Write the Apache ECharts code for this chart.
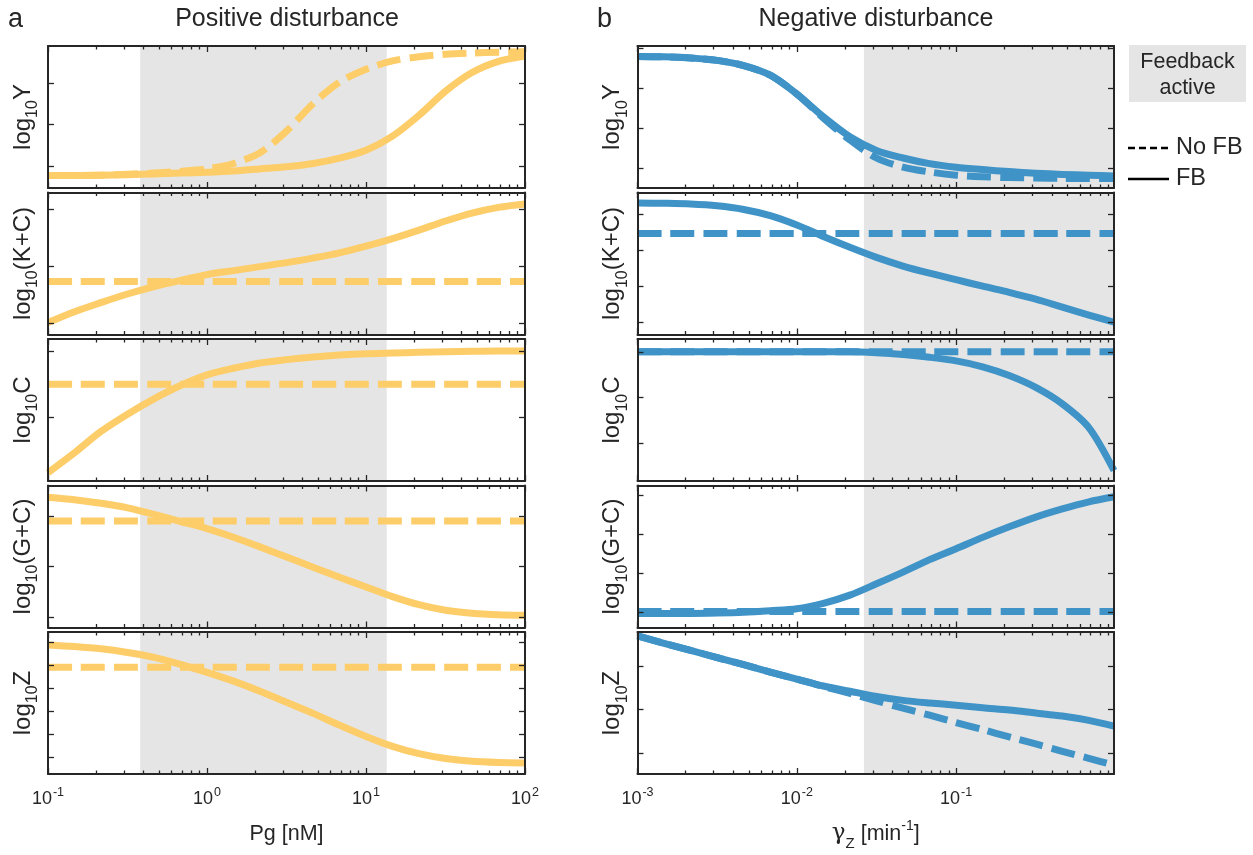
<!DOCTYPE html>
<html><head><meta charset="utf-8">
<script src="https://cdn.jsdelivr.net/npm/echarts@6/dist/echarts.min.js"></script>
<style>html,body{margin:0;padding:0;background:#fff}#c{width:1253px;height:855px}</style>
</head><body><div id="c"></div>
<script>
const TEXT = '#262626';
const YEL = '#FDCD6A', BLUE = '#3F93C7', SHADE = '#E5E5E5';
const FONT = '"Liberation Sans", Arial, Helvetica, sans-serif';

// x samples (evenly spaced in log10)
const xPg    = [0.1, 0.1468, 0.2154, 0.3162, 0.4642, 0.6813, 1, 1.468, 2.154, 3.162, 4.642, 6.813, 10, 14.68, 21.54, 31.62, 46.42, 68.13, 100];
const xGamma = [0.001, 0.001468, 0.002154, 0.003162, 0.004642, 0.006813, 0.01, 0.01468, 0.02154, 0.03162, 0.04642, 0.06813, 0.1, 0.1468, 0.2154, 0.3162, 0.4642, 0.6813, 0.98];

// axis ticks
const majorTicksPg = [0.1, 1, 10, 100];
const minorTicksPg = [0.2,0.3,0.4,0.5,0.6,0.7,0.8,0.9, 2,3,4,5,6,7,8,9, 20,30,40,50,60,70,80,90];
const majorTicksGamma = [0.001, 0.01, 0.1];
const minorTicksGamma = [0.002,0.003,0.004,0.005,0.006,0.007,0.008,0.009, 0.02,0.03,0.04,0.05,0.06,0.07,0.08,0.09, 0.2,0.3,0.4,0.5,0.6,0.7,0.8,0.9];
const shadePg = [0.38, 13.5];
const shadeGamma = [0.0264, 0.98];

// Positive disturbance (log10 values, arbitrary offset)
const posY_noFB  = [-0.23,-0.23,-0.22,-0.2,-0.17,-0.13,-0.07,0.06,0.32,0.84,1.5,2.02,2.33,2.53,2.63,2.69,2.72,2.74,2.75];
const posY_FB    = [-0.23,-0.23,-0.22,-0.21,-0.19,-0.17,-0.15,-0.12,-0.07,-0.02,0.06,0.19,0.38,0.72,1.22,1.8,2.25,2.52,2.65];
const posKC_noFB = [0.74,0.74,0.74,0.74,0.74,0.74,0.74,0.74,0.74,0.74,0.74,0.74,0.74,0.74,0.74,0.74,0.74,0.74,0.74];
const posKC_FB   = [0.02,0.21,0.37,0.52,0.65,0.76,0.86,0.93,1.0,1.07,1.15,1.24,1.36,1.49,1.64,1.8,1.94,2.04,2.1];
const posC_noFB  = [0.5,0.5,0.5,0.5,0.5,0.5,0.5,0.5,0.5,0.5,0.5,0.5,0.5,0.5,0.5,0.5,0.5,0.5,0.5];
const posC_FB    = [-0.83,-0.53,-0.21,0.05,0.28,0.48,0.64,0.74,0.82,0.87,0.91,0.94,0.96,0.97,0.98,0.99,0.995,1.0,1.0];
const posGC_noFB = [1.9,1.9,1.9,1.9,1.9,1.9,1.9,1.9,1.9,1.9,1.9,1.9,1.9,1.9,1.9,1.9,1.9,1.9,1.9];
const posGC_FB   = [2.37,2.32,2.25,2.16,2.03,1.89,1.75,1.58,1.39,1.19,0.99,0.79,0.6,0.41,0.25,0.14,0.08,0.05,0.04];
const posZ_noFB  = [3.9,3.9,3.9,3.9,3.9,3.9,3.9,3.9,3.9,3.9,3.9,3.9,3.9,3.9,3.9,3.9,3.9,3.9,3.9];
const posZ_FB    = [4.87,4.8,4.7,4.54,4.33,4.03,3.68,3.3,2.86,2.38,1.9,1.39,0.9,0.47,0.15,-0.06,-0.18,-0.23,-0.25];

// Negative disturbance
const negY_noFB  = [2.79,2.78,2.75,2.69,2.56,2.32,1.85,1.25,0.7,0.25,0.02,-0.1,-0.18,-0.22,-0.24,-0.25,-0.26,-0.26,-0.26];
const negY_FB    = [2.79,2.78,2.75,2.69,2.56,2.32,1.85,1.28,0.78,0.44,0.25,0.11,0.02,-0.04,-0.09,-0.13,-0.16,-0.18,-0.2];
const negKC_noFB = [2.46,2.46,2.46,2.46,2.46,2.46,2.46,2.46,2.46,2.46,2.46,2.46,2.46,2.46,2.46,2.46,2.46,2.46,2.46];
const negKC_FB   = [3.31,3.3,3.28,3.23,3.13,2.96,2.7,2.38,2.08,1.8,1.56,1.36,1.18,1.0,0.83,0.64,0.42,0.2,0.0];
const negC_noFB  = [2.0,2.0,2.0,2.0,2.0,2.0,2.0,2.0,2.0,2.0,2.0,2.0,2.0,2.0,2.0,2.0,2.0,2.0,2.0];
const negC_FB    = [2.0,2.0,2.0,2.0,2.0,2.0,2.0,2.0,2.0,1.98,1.94,1.88,1.8,1.67,1.48,1.22,0.86,0.34,-0.6];
const negGC_noFB = [0.03,0.03,0.03,0.03,0.03,0.03,0.03,0.03,0.03,0.03,0.03,0.03,0.03,0.03,0.03,0.03,0.03,0.03,0.03];
const negGC_FB   = [-0.02,-0.02,-0.02,-0.01,0.01,0.05,0.1,0.24,0.45,0.74,1.04,1.36,1.64,1.93,2.2,2.45,2.66,2.84,2.97];
const negZ_noFB  = [2.69,2.52,2.36,2.19,2.03,1.86,1.7,1.53,1.37,1.2,1.03,0.87,0.7,0.54,0.37,0.21,0.04,-0.12,-0.28];
const negZ_FB    = [2.69,2.52,2.36,2.19,2.03,1.86,1.7,1.54,1.42,1.3,1.21,1.15,1.1,1.04,0.99,0.92,0.85,0.75,0.62];

const yNames = ['Y', '(K+C)', 'C', '(G+C)', 'Z'];

const panels = [
  {col:0,row:0,x:xPg,noFB:posY_noFB, fb:posY_FB, yMin:-0.53,yMax:2.89,yTicks:[0,1,2]},
  {col:0,row:1,x:xPg,noFB:posKC_noFB,fb:posKC_FB,yMin:-0.19,yMax:2.3, yTicks:[0,1,2]},
  {col:0,row:2,x:xPg,noFB:posC_noFB, fb:posC_FB, yMin:-0.955,yMax:1.18,yTicks:[0,1]},
  {col:0,row:3,x:xPg,noFB:posGC_noFB,fb:posGC_FB,yMin:-0.2,yMax:2.6, yTicks:[0,1,2]},
  {col:0,row:4,x:xPg,noFB:posZ_noFB, fb:posZ_FB, yMin:-0.73,yMax:5.43,yTicks:[0,1,2,3,4,5]},
  {col:1,row:0,x:xGamma,noFB:negY_noFB, fb:negY_FB, yMin:-0.5,yMax:3.05,yTicks:[0,1,2,3]},
  {col:1,row:1,x:xGamma,noFB:negKC_noFB,fb:negKC_FB,yMin:-0.34,yMax:3.6,yTicks:[0,1,2,3]},
  {col:1,row:2,x:xGamma,noFB:negC_noFB, fb:negC_FB, yMin:-0.83,yMax:2.28,yTicks:[0,1,2]},
  {col:1,row:3,x:xGamma,noFB:negGC_noFB,fb:negGC_FB,yMin:-0.38,yMax:3.26,yTicks:[0,1,2,3]},
  {col:1,row:4,x:xGamma,noFB:negZ_noFB, fb:negZ_FB, yMin:-0.48,yMax:2.78,yTicks:[0,1,2]}
];

const option = {animation:false, backgroundColor:'#fff', textStyle:{fontFamily:FONT},
  grid:[], xAxis:[], yAxis:[], series:[], graphic:[]};

const tickRich = {
  b:{fontSize:18, fontFamily:FONT, color:TEXT, lineHeight:22, verticalAlign:'bottom'},
  p:{fontSize:12.5, fontFamily:FONT, color:TEXT, lineHeight:22, verticalAlign:'top', padding:[0,0,0,1]}
};
function expLabel(v){ const e = Math.round(Math.log10(v)); return '{b|10}{p|' + e + '}'; }

const axisLineStyle = {color:TEXT, width:2};
const tickLineStyle = {color:TEXT, width:1.3};

panels.forEach((p, i) => {
  const left = p.col === 0 ? 48 : 637.5;
  const width = p.col === 0 ? 477 : 476.5;
  const top = 46 + p.row * 146.5;
  option.grid.push({left:left, top:top, width:width, height:142, show:false, containLabel:false});
  const xr = p.col === 0 ? [0.1, 100] : [0.001, 0.98];
  const majors = p.col === 0 ? majorTicksPg : majorTicksGamma;
  const minors = p.col === 0 ? minorTicksPg : minorTicksGamma;
  const shade = p.col === 0 ? shadePg : shadeGamma;
  const isBottom = p.row === 4;
  const base = () => ({type:'log', logBase:10, gridIndex:i, min:xr[0], max:xr[1], z:10,
    splitLine:{show:false}, minorTick:{show:false}, minorSplitLine:{show:false}});
  const xName = p.col === 0 ? '{t|Pg [nM]}' : '{g|γ}{s|Z}{t| [min}{p|-1}{t|]}';
  option.xAxis.push(Object.assign(base(), {position:'bottom',
    axisLine:{show:true, onZero:false, lineStyle:axisLineStyle},
    axisTick:{show:true, inside:true, length:6, customValues:majors, lineStyle:tickLineStyle},
    axisLabel:{show:isBottom, customValues:majors, formatter:expLabel, margin:12, rich:tickRich},
    name:isBottom ? xName : '', nameLocation:'middle', nameGap:45,
    nameTextStyle:{fontSize:22, color:TEXT, fontFamily:FONT, rich:{
      g:{fontSize:23, fontFamily:'"DejaVu Serif", serif', color:TEXT, lineHeight:26, verticalAlign:'bottom'},
      s:{fontSize:15, fontFamily:FONT, color:TEXT, lineHeight:26, verticalAlign:'bottom', padding:[0,0,-6,0]},
      t:{fontSize:21.5, fontFamily:FONT, color:TEXT, lineHeight:26, verticalAlign:'bottom'},
      p:{fontSize:14, fontFamily:FONT, color:TEXT, lineHeight:26, verticalAlign:'top'}}}
  }));
  option.xAxis.push(Object.assign(base(), {position:'top',
    axisLine:{show:true, onZero:false, lineStyle:axisLineStyle},
    axisTick:{show:true, inside:true, length:6, customValues:majors, lineStyle:tickLineStyle},
    axisLabel:{show:false}}));
  option.xAxis.push(Object.assign(base(), {position:'bottom',
    axisLine:{show:false, onZero:false},
    axisTick:{show:true, inside:true, length:3.5, customValues:minors, lineStyle:tickLineStyle},
    axisLabel:{show:false}}));
  option.xAxis.push(Object.assign(base(), {position:'top',
    axisLine:{show:false, onZero:false},
    axisTick:{show:true, inside:true, length:3.5, customValues:minors, lineStyle:tickLineStyle},
    axisLabel:{show:false}}));
  const yName = '{t|log}{s|10}{t|' + yNames[p.row] + '}';
  option.yAxis.push({type:'value', gridIndex:i, position:'left', min:p.yMin, max:p.yMax, z:10,
    axisLine:{show:true, onZero:false, lineStyle:axisLineStyle},
    axisTick:{show:true, inside:true, length:6, customValues:p.yTicks, lineStyle:tickLineStyle},
    axisLabel:{show:false}, splitLine:{show:false},
    name:yName, nameLocation:'middle', nameRotate:90, nameGap:13,
    nameTextStyle:{rich:{
      t:{fontSize:24, fontFamily:FONT, color:TEXT, lineHeight:27, verticalAlign:'bottom'},
      s:{fontSize:16, fontFamily:FONT, color:TEXT, lineHeight:27, verticalAlign:'bottom', padding:[0,0,-6,0]}}}
  });
  option.yAxis.push({type:'value', gridIndex:i, position:'right', min:p.yMin, max:p.yMax, z:10,
    axisLine:{show:true, onZero:false, lineStyle:axisLineStyle},
    axisTick:{show:true, inside:true, length:6, customValues:p.yTicks, lineStyle:tickLineStyle},
    axisLabel:{show:false}, splitLine:{show:false}});
  const xi = i * 4, yi = i * 2;
  const color = p.col === 0 ? YEL : BLUE;
  option.series.push({type:'line', xAxisIndex:xi, yAxisIndex:yi, data:[], silent:true, z:1,
    markArea:{silent:true, itemStyle:{color:SHADE}, data:[[{xAxis:shade[0]}, {xAxis:shade[1]}]]}});
  option.series.push({type:'line', name:'FB', xAxisIndex:xi, yAxisIndex:yi,
    data:p.x.map((x, k) => [x, p.fb[k]]), symbol:'none', smooth:0.3, silent:true, z:3,
    lineStyle:{color:color, width:7, cap:'butt', join:'round'}});
  option.series.push({type:'line', name:'No FB', xAxisIndex:xi, yAxisIndex:yi,
    data:p.x.map((x, k) => [x, p.noFB[k]]), symbol:'none', smooth:0.3, silent:true, z:4,
    lineStyle:{color:color, width:7, type:[24, 9], cap:'butt', join:'round'}});
});

option.graphic = [
  {type:'text', x:8, y:20, style:{text:'a', font:'27px ' + FONT, fill:TEXT, verticalAlign:'middle'}},
  {type:'text', x:597, y:20, style:{text:'b', font:'27px ' + FONT, fill:TEXT, verticalAlign:'middle'}},
  {type:'text', x:287, y:19, style:{text:'Positive disturbance', font:'25px ' + FONT, fill:TEXT, align:'center', verticalAlign:'middle'}},
  {type:'text', x:876, y:19, style:{text:'Negative disturbance', font:'25px ' + FONT, fill:TEXT, align:'center', verticalAlign:'middle'}},
  {type:'rect', shape:{x:1129, y:45, width:117, height:57}, style:{fill:SHADE}},
  {type:'text', x:1187.5, y:62, style:{text:'Feedback', font:'21.5px ' + FONT, fill:TEXT, align:'center', verticalAlign:'middle'}},
  {type:'text', x:1187.5, y:88, style:{text:'active', font:'21.5px ' + FONT, fill:TEXT, align:'center', verticalAlign:'middle'}},
  {type:'line', shape:{x1:1128, y1:148, x2:1169, y2:148}, style:{stroke:'#000', lineWidth:2.5, lineDash:[7,4]}},
  {type:'text', x:1176, y:148, style:{text:'No FB', font:'23.5px ' + FONT, fill:TEXT, verticalAlign:'middle'}},
  {type:'line', shape:{x1:1128, y1:179, x2:1169, y2:179}, style:{stroke:'#000', lineWidth:2.5}},
  {type:'text', x:1176, y:179, style:{text:'FB', font:'23.5px ' + FONT, fill:TEXT, verticalAlign:'middle'}}
];

const chart = echarts.init(document.getElementById('c'), null, {renderer:'canvas'});
chart.setOption(option);
</script>
</body></html>
